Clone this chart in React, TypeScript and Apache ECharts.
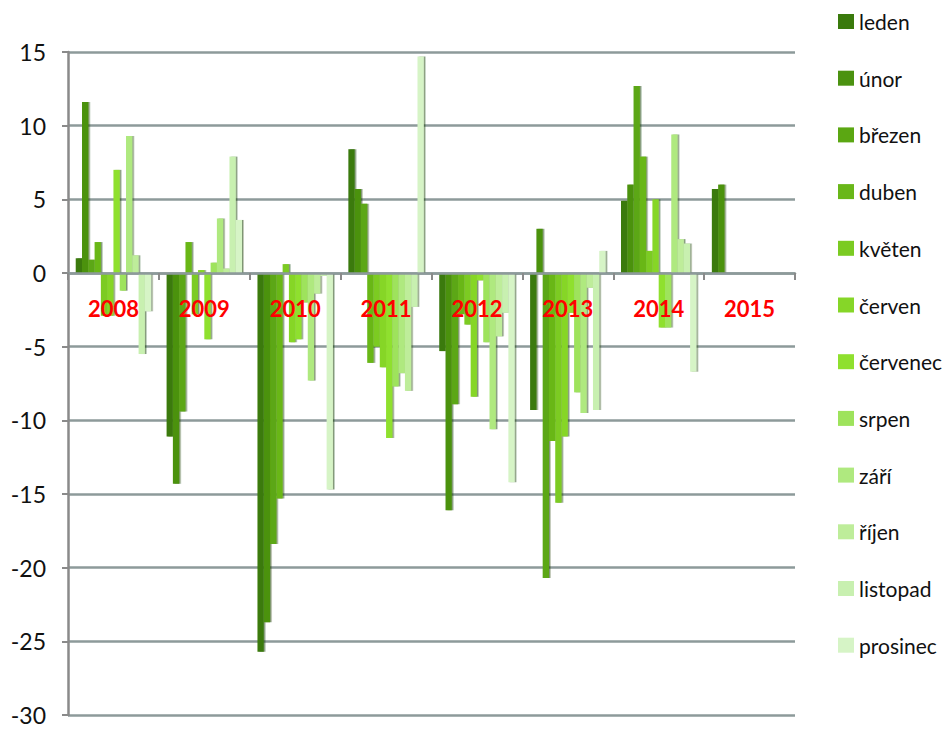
import React, { useEffect, useRef } from "react";
import * as echarts from "echarts";

const years = ["2008", "2009", "2010", "2011", "2012", "2013", "2014", "2015"];
const months = ["leden", "únor", "březen", "duben", "květen", "červen", "červenec", "srpen", "září", "říjen", "listopad", "prosinec"];
const monthColors = ["#3a7a0c", "#4b9210", "#5ba712", "#69b719", "#7bcb22", "#86d628", "#8fe02e", "#9ee35c", "#afe97f", "#beed9a", "#c8f0b0", "#d6f4c6"];

const leden = [1.0, -11.1, -25.7, 8.4, -5.3, -9.3, 4.9, 5.7];
const unor = [11.6, -14.3, -23.7, 5.7, -16.1, 3.0, 6.0, 6.0];
const brezen = [0.9, -9.4, -18.4, 4.7, -8.9, -20.7, 12.7, null];
const duben = [2.1, 2.1, -15.3, -6.1, -2.8, -11.4, 7.9, null];
const kveten = [-2.9, -2.8, 0.6, -5.0, -3.5, -15.6, 1.5, null];
const cerven = [-2.9, 0.2, -4.7, -6.4, -8.4, -11.1, 5.0, null];
const cervenec = [7.0, -4.5, -4.5, -11.2, -0.5, -2.7, -3.7, null];
const srpen = [-1.2, 0.7, -2.0, -7.7, -4.7, -8.1, -3.7, null];
const zari = [9.3, 3.7, -7.3, -6.8, -10.6, -9.5, 9.4, null];
const rijen = [1.2, 0.3, -1.4, -8.0, -4.3, -1.0, 2.3, null];
const listopad = [-5.5, 7.9, -0.2, -2.3, -2.7, -9.3, 2.0, null];
const prosinec = [-2.6, 3.6, -14.7, 14.7, -14.2, 1.5, -6.7, null];

const seriesValues = [leden, unor, brezen, duben, kveten, cerven, cervenec, srpen, zari, rijen, listopad, prosinec];

const yTicks = { min: -30, max: 15, interval: 5 };

export default function App() {
  const ref = useRef<HTMLDivElement>(null);
  useEffect(() => {
    if (!ref.current) return;
    const chart = echarts.init(ref.current, undefined, { renderer: "svg" });
    const font = "Lato, 'Open Sans', sans-serif";
    const gridTop = 52;
    const gridBottom = 16;
    const plotH = 731 - gridTop - gridBottom;
    const zeroFromBottom = (plotH * (0 - yTicks.min)) / (yTicks.max - yTicks.min);
    chart.setOption({
      animation: false,
      backgroundColor: "#ffffff",
      grid: { left: 68, right: 157, top: gridTop, bottom: gridBottom, containLabel: false },
      legend: {
        orient: "vertical",
        left: 833,
        top: 4,
        itemWidth: 16,
        itemHeight: 15,
        itemGap: 31.7,
        icon: "rect",
        data: months,
        textStyle: { fontFamily: font, fontSize: 21, color: "#111", lineHeight: 25 },
      },
      xAxis: {
        type: "category",
        data: years,
        offset: -zeroFromBottom,
        z: 10,
        axisLine: { onZero: false, lineStyle: { color: "#8d9a9a", width: 2.5 } },
        axisTick: { show: true, length: 7, lineStyle: { color: "#8a8a8a", width: 2 } },
        axisLabel: {
          color: "#ff0000",
          fontWeight: "bold",
          fontFamily: font,
          fontSize: 22,
          margin: 24,
        },
        splitLine: { show: false },
      },
      yAxis: {
        type: "value",
        min: yTicks.min,
        max: yTicks.max,
        interval: yTicks.interval,
        axisLine: { show: true, lineStyle: { color: "#8a8a8a", width: 2.5 } },
        axisTick: { show: true, length: 6, lineStyle: { color: "#8a8a8a", width: 2 } },
        axisLabel: { color: "#111", fontFamily: font, fontSize: 23, margin: 22 },
        splitLine: { show: true, lineStyle: { color: "#8d9a9a", width: 2.5 } },
      },
      series: months.map((m, i) => ({
        name: m,
        type: "bar",
        data: seriesValues[i],
        barGap: "0%",
        barCategoryGap: "17%",
        itemStyle: {
          color: monthColors[i],
          shadowColor: "rgba(20,60,0,0.55)",
          shadowOffsetX: 1.5,
          shadowBlur: 0,
        },
      })),
    });
    return () => chart.dispose();
  }, []);
  return <div ref={ref} style={{ position: "absolute", left: 0, top: 0, width: 952, height: 731 }} />;
}
